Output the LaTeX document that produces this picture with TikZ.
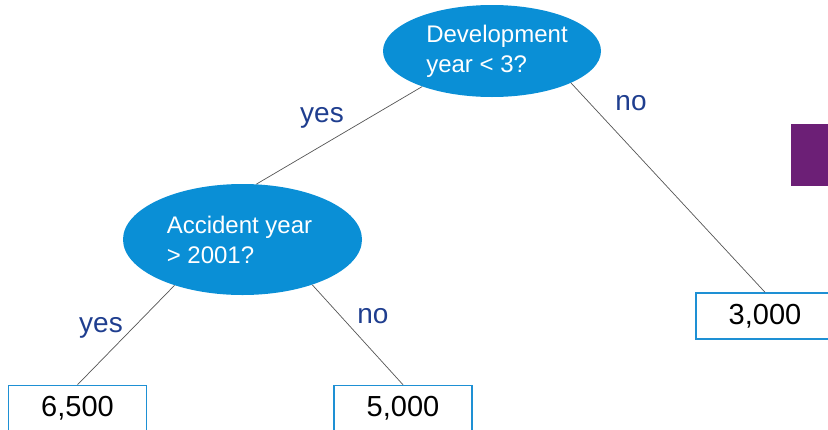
\documentclass[tikz,border=0pt]{standalone}
\usepackage{fontspec}
\setmainfont{Liberation Sans}
\usetikzlibrary{shapes.geometric}
\definecolor{nodeblue}{HTML}{0A8FD6}
\definecolor{boxblue}{HTML}{1E90D4}
\definecolor{labelblue}{HTML}{1F3E8F}
\definecolor{plum}{HTML}{6C1F76}
\definecolor{edgegray}{HTML}{555555}
\begin{document}
\begin{tikzpicture}[x=1pt,y=-1pt,
  question/.style={ellipse,fill=nodeblue,draw=none,text=white,align=left,
    font=\fontsize{24}{30}\selectfont,inner sep=0pt},
  leaf/.style={rectangle,draw=boxblue,line width=1.5pt,fill=white,
    minimum width=138pt,minimum height=46pt,inner sep=0pt,
    font=\fontsize{29}{30}\selectfont},
  branch/.style={text=labelblue,font=\fontsize{28}{30}\selectfont,anchor=base,inner sep=0pt},
  edge/.style={draw=edgegray,line width=0.7pt}]
\useasboundingbox (0,0) rectangle (828,429);
\clip (0,0) rectangle (828,429);

% accent block at the right edge
\fill[plum] (791,124) rectangle (840,186);

% decision nodes
\node[question,minimum width=218pt,minimum height=92pt] (dev) at (492,51)
  {\hspace*{10pt}Development\\\hspace*{10pt}year < 3?};
\node[question,minimum width=239pt,minimum height=111pt] (acc) at (242.5,239.5)
  {Accident year\hspace*{6pt}\\> 2001?};

% leaves
\node[leaf] (r3) at (765,316) {3,000};
\node[leaf] (r65) at (77.5,408.5) {6,500};
\node[leaf] (r5) at (403,408.5) {5,000};

% branches
\draw[edge] (dev.207) -- (acc.76);
\draw[edge] (dev.-22) -- (r3.north);
\draw[edge] (acc.214) -- (r65.north);
\draw[edge] (acc.-33) -- (r5.north);

% branch labels
\node[branch] (l1) at (322,122) {yes};
\node[branch] (l2) at (631,110) {no};
\node[branch] (l3) at (101,332) {yes};
\node[branch] (l4) at (373,323) {no};
\end{tikzpicture}
\end{document}
